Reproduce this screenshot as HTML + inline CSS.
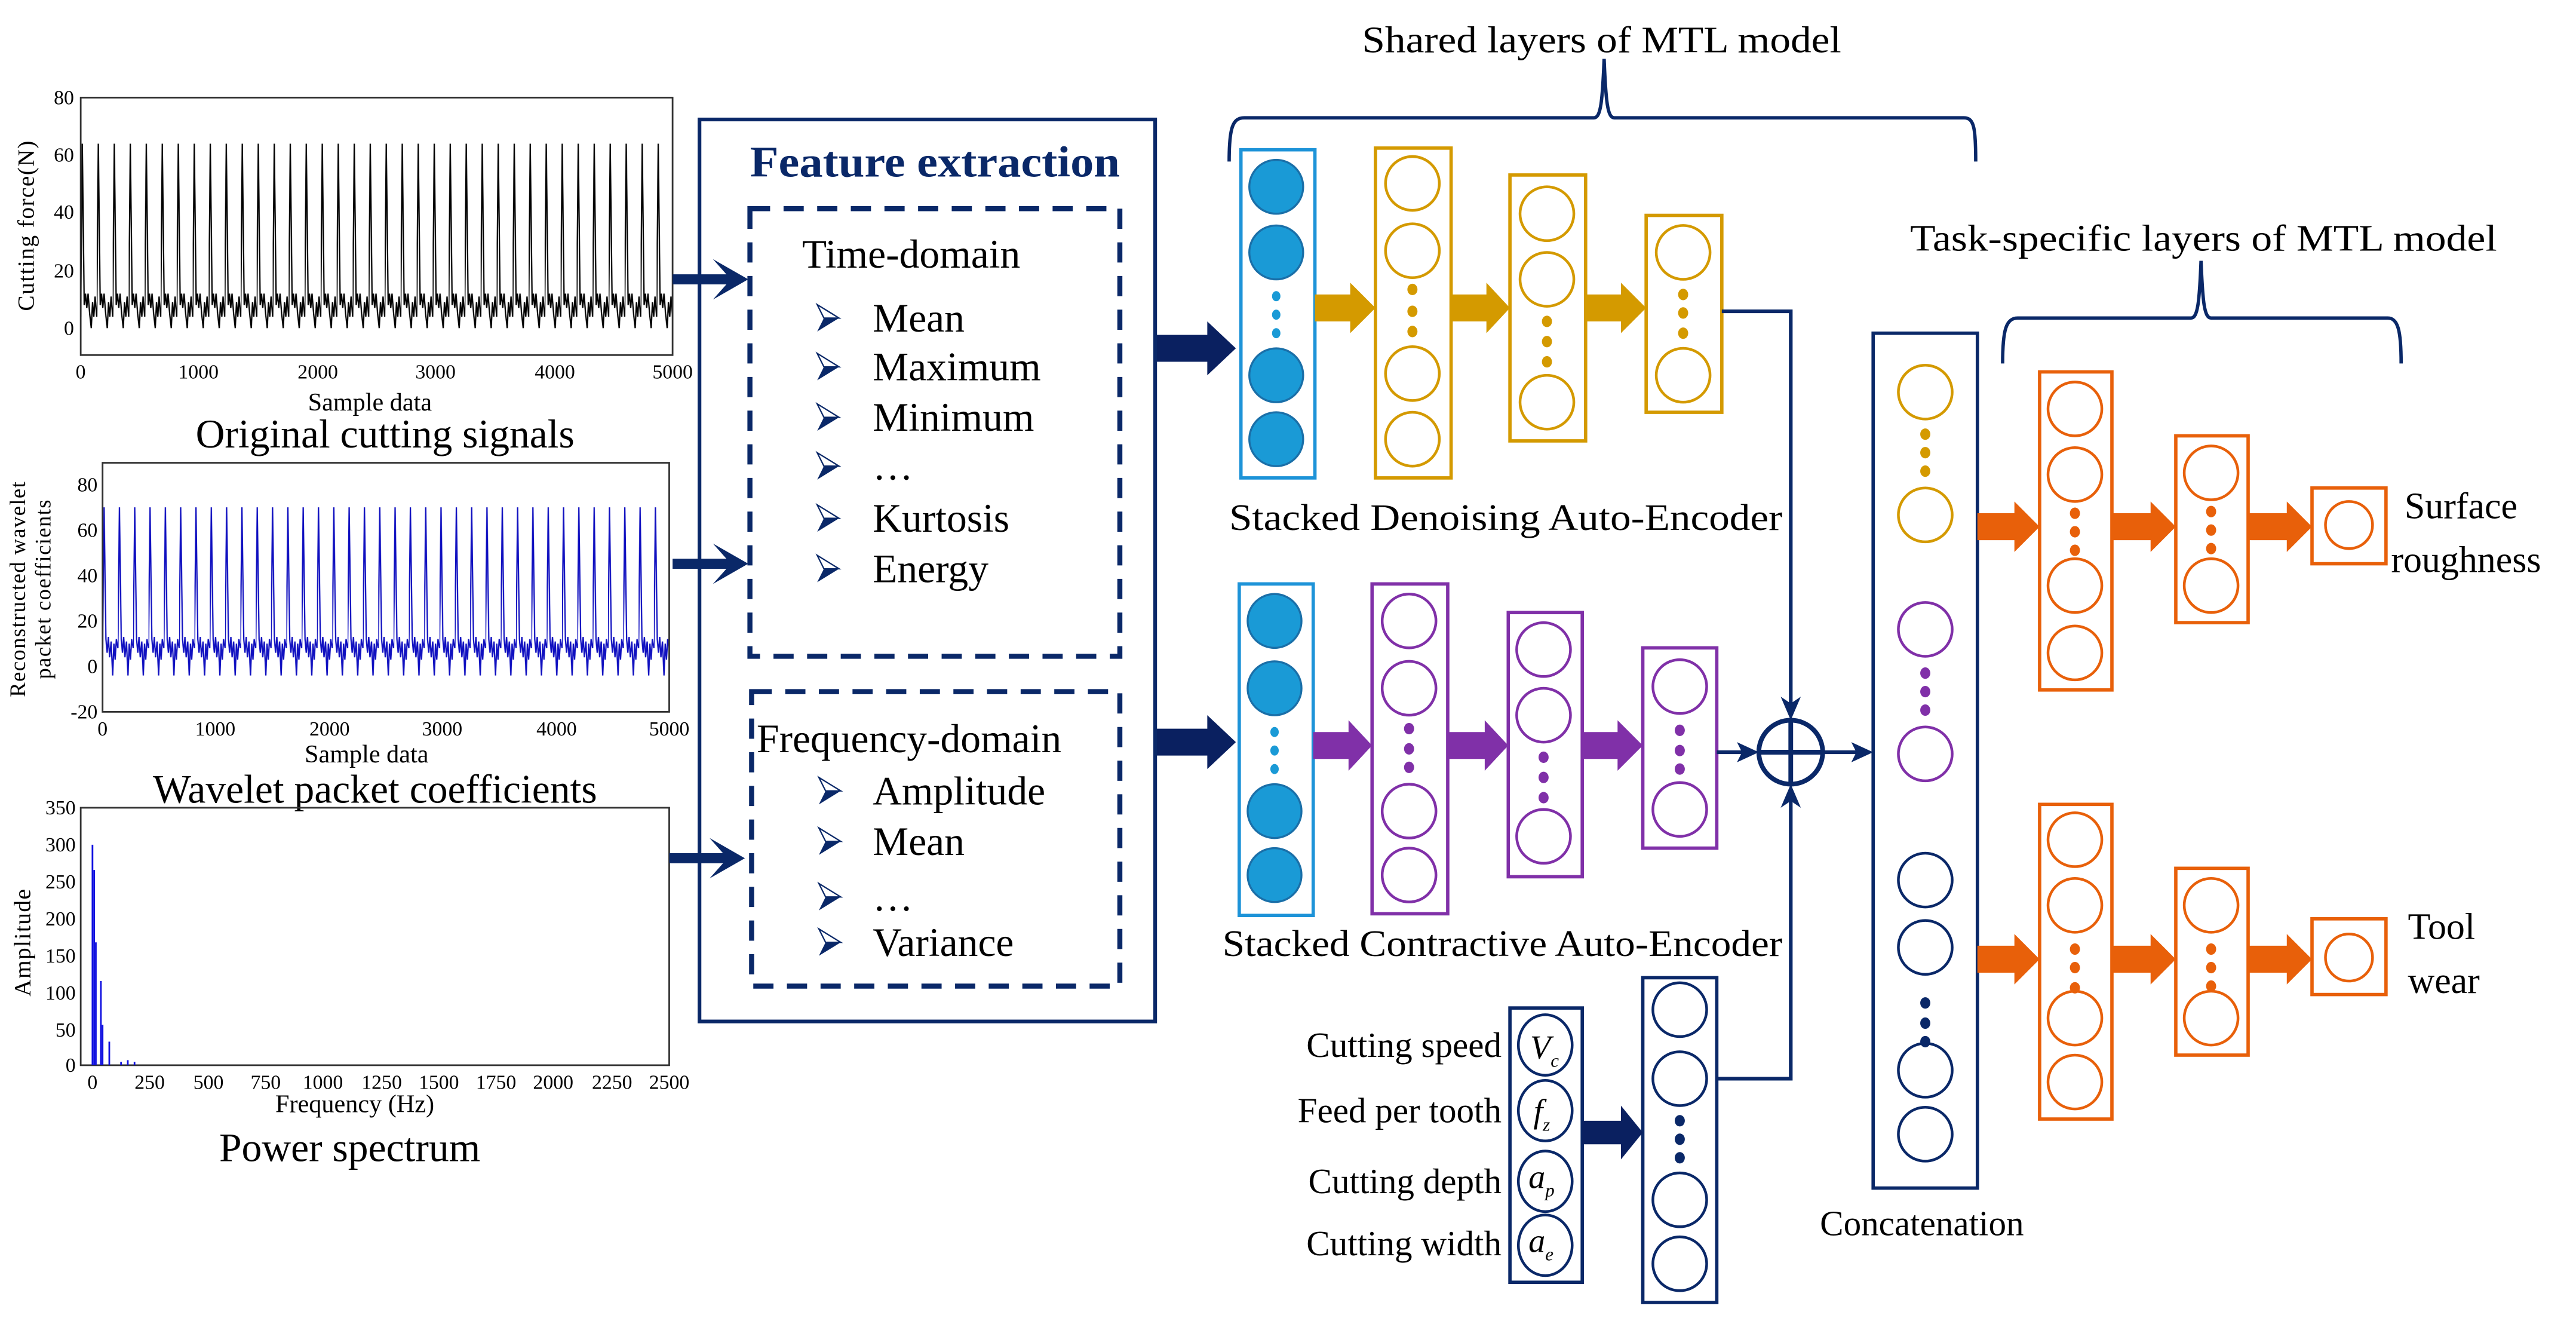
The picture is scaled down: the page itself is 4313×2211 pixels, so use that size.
<!DOCTYPE html>
<html><head><meta charset="utf-8"><style>
html,body{margin:0;padding:0;background:#fff;}
svg{display:block;}
text{font-family:"Liberation Serif",serif;}
</style></head><body>
<svg xmlns="http://www.w3.org/2000/svg" width="4313" height="2211" viewBox="0 0 1532 785" preserveAspectRatio="none">
<rect width="1532" height="785" fill="#fff"/>
<defs>
<g id="tri"><polygon points="0,-8 13,0 0,8 4,0" fill="#0a2868"/><polygon points="0,-8 13,0 4,0" fill="#fff" stroke="#0a2868" stroke-width="0.8"/></g>
<pattern id="pw1" patternUnits="userSpaceOnUse" x="48" y="0" width="9.514" height="785">
<polyline fill="none" stroke="#000" stroke-width="0.8" points="0,188.2 0.95,85.4 2.09,181.3 2.85,174.5 3.62,183 4.38,174.5 5.33,186.4 6.28,195 7.04,179.6 7.8,188.2 8.56,176.2 9.514,188.2"/>
</pattern>
<pattern id="pw2" patternUnits="userSpaceOnUse" x="61" y="0" width="9.108" height="785">
<polyline fill="none" stroke="#1010c0" stroke-width="0.8" points="0,385.2 0.91,301.5 2.0,379.8 2.73,387.9 3.46,378.5 4.19,390.6 5.1,381.2 6.01,401.4 6.74,382.5 7.47,392 8.2,379.8 9.108,385.2"/>
</pattern>
</defs>

<!-- ===== Plot 1 ===== -->
<rect x="48" y="80" width="352" height="120" fill="url(#pw1)"/>
<rect x="48" y="58" width="352" height="153" fill="none" stroke="#333" stroke-width="1"/>
<g font-size="12" text-anchor="end">
<text x="44" y="62">80</text><text x="44" y="96">60</text><text x="44" y="130">40</text><text x="44" y="165">20</text><text x="44" y="199">0</text>
</g>
<g font-size="12" text-anchor="middle">
<text x="48" y="225">0</text><text x="118" y="225">1000</text><text x="189" y="225">2000</text><text x="259" y="225">3000</text><text x="330" y="225">4000</text><text x="400" y="225">5000</text>
</g>
<text x="220" y="244" font-size="15" text-anchor="middle">Sample data</text>
<text x="229" y="266" font-size="24" text-anchor="middle">Original cutting signals</text>
<text transform="translate(20,134) rotate(-90)" font-size="14" text-anchor="middle" letter-spacing="0.5">Cutting force(N)</text>

<!-- ===== Plot 2 ===== -->
<rect x="61" y="296" width="337" height="110" fill="url(#pw2)"/>
<rect x="61" y="275" width="337" height="148" fill="none" stroke="#333" stroke-width="1"/>
<g font-size="12" text-anchor="end">
<text x="58" y="292">80</text><text x="58" y="319">60</text><text x="58" y="346">40</text><text x="58" y="373">20</text><text x="58" y="400">0</text><text x="58" y="427">-20</text>
</g>
<g font-size="12" text-anchor="middle">
<text x="61" y="437">0</text><text x="128" y="437">1000</text><text x="196" y="437">2000</text><text x="263" y="437">3000</text><text x="331" y="437">4000</text><text x="398" y="437">5000</text>
</g>
<text x="218" y="453" font-size="15" text-anchor="middle">Sample data</text>
<text x="223" y="477" font-size="24" text-anchor="middle">Wavelet packet coefficients</text>
<text transform="translate(15,350) rotate(-90)" font-size="13" text-anchor="middle" letter-spacing="0.5">Reconstructed wavelet</text>
<text transform="translate(30,350) rotate(-90)" font-size="13" text-anchor="middle" letter-spacing="0.5">packet coefficients</text>

<!-- ===== Plot 3 ===== -->
<rect x="48" y="480" width="350" height="153" fill="none" stroke="#333" stroke-width="1"/>
<g stroke="#1010e0" stroke-width="1">
<line x1="55" y1="633" x2="55" y2="502"/><line x1="56" y1="633" x2="56" y2="517"/>
<line x1="57" y1="633" x2="57" y2="560"/>
<line x1="60" y1="633" x2="60" y2="583"/><line x1="61" y1="633" x2="61" y2="609"/>
<line x1="65" y1="633" x2="65" y2="619"/><line x1="72" y1="633" x2="72" y2="631"/><line x1="76" y1="633" x2="76" y2="630"/><line x1="80" y1="633" x2="80" y2="631"/>
</g>
<g font-size="12" text-anchor="end">
<text x="45" y="484">350</text><text x="45" y="506">300</text><text x="45" y="528">250</text><text x="45" y="550">200</text><text x="45" y="572">150</text><text x="45" y="594">100</text><text x="45" y="616">50</text><text x="45" y="637">0</text>
</g>
<g font-size="12" text-anchor="middle">
<text x="55" y="647">0</text><text x="89" y="647">250</text><text x="124" y="647">500</text><text x="158" y="647">750</text><text x="192" y="647">1000</text><text x="227" y="647">1250</text><text x="261" y="647">1500</text><text x="295" y="647">1750</text><text x="329" y="647">2000</text><text x="364" y="647">2250</text><text x="398" y="647">2500</text>
</g>
<text x="211" y="661" font-size="15" text-anchor="middle">Frequency (Hz)</text>
<text x="208" y="690" font-size="24" text-anchor="middle">Power spectrum</text>
<text transform="translate(18,560) rotate(-90)" font-size="14" text-anchor="middle" letter-spacing="0.5">Amplitude</text>

<!-- small arrows plots -> feature box -->
<g fill="#0a2868">
<polygon points="400,163 432,163 424,154 445,166 424,178 432,169 400,169"/>
<polygon points="400,332 432,332 424,323 445,335 424,347 432,338 400,338"/>
<polygon points="398,507 430,507 422,498 443,510 422,522 430,513 398,513"/>
</g>

<!-- ===== Feature extraction box ===== -->
<rect x="416" y="71" width="271" height="536" fill="none" stroke="#0a2868" stroke-width="2.2"/>
<text x="556" y="105" font-size="26" font-weight="bold" fill="#0a2868" text-anchor="middle" textLength="220" lengthAdjust="spacingAndGlyphs">Feature extraction</text>
<rect x="446" y="124" width="220" height="266" fill="none" stroke="#0a2868" stroke-width="3" stroke-dasharray="12,8"/>
<rect x="447" y="411" width="219" height="175" fill="none" stroke="#0a2868" stroke-width="3" stroke-dasharray="12,8"/>
<g font-size="24">
<text x="477" y="159">Time-domain</text>
<text x="519" y="197">Mean</text>
<text x="519" y="226">Maximum</text>
<text x="519" y="256">Minimum</text>
<text x="519" y="285">…</text>
<text x="519" y="316">Kurtosis</text>
<text x="519" y="346">Energy</text>
<text x="450" y="447">Frequency-domain</text>
<text x="519" y="478">Amplitude</text>
<text x="519" y="508">Mean</text>
<text x="519" y="541">…</text>
<text x="519" y="568">Variance</text>
</g>
<use href="#tri" x="486" y="189"/><use href="#tri" x="486" y="218"/><use href="#tri" x="486" y="248"/><use href="#tri" x="486" y="277"/><use href="#tri" x="486" y="308"/><use href="#tri" x="486" y="338"/>
<use href="#tri" x="487" y="470"/><use href="#tri" x="487" y="500"/><use href="#tri" x="487" y="533"/><use href="#tri" x="487" y="560"/>

<!-- big navy arrows -->
<g fill="#0a2060">
<polygon points="688,199 718,199 718,191 735,207 718,223 718,215 688,215"/>
<polygon points="688,433 718,433 718,425 735,441 718,457 718,449 688,449"/>
</g>

<!-- ===== Network boxes ===== -->
<g fill="none" stroke-width="2">
<rect x="738" y="89" width="44" height="195" stroke="#1d93d8"/>
<rect x="737" y="347" width="44" height="197" stroke="#1d93d8"/>
<rect x="818" y="88" width="45" height="196" stroke="#d49a00"/>
<rect x="898" y="104" width="45" height="158" stroke="#d49a00"/>
<rect x="979" y="128" width="45" height="117" stroke="#d49a00"/>
<rect x="816" y="347" width="45" height="196" stroke="#8030a8"/>
<rect x="897" y="364" width="44" height="157" stroke="#8030a8"/>
<rect x="977" y="385" width="44" height="119" stroke="#8030a8"/>
<rect x="977" y="581" width="44" height="193" stroke="#0a2868"/>
<rect x="1114" y="198" width="62" height="508" stroke="#0a2868"/>
<rect x="1213" y="221" width="43" height="189" stroke="#e8600a"/>
<rect x="1294" y="259" width="43" height="111" stroke="#e8600a"/>
<rect x="1375" y="290" width="44" height="45" stroke="#e8600a"/>
<rect x="1213" y="478" width="43" height="187" stroke="#e8600a"/>
<rect x="1294" y="516" width="43" height="111" stroke="#e8600a"/>
<rect x="1375" y="546" width="44" height="45" stroke="#e8600a"/>
</g>

<!-- blue filled -->
<g fill="#1a9ad6" stroke="#1a6fa8" stroke-width="1.2">
<circle cx="759" cy="111" r="16"/><circle cx="759" cy="150" r="16"/><circle cx="759" cy="223" r="16"/><circle cx="759" cy="261" r="16"/>
<circle cx="758" cy="369" r="16"/><circle cx="758" cy="409" r="16"/><circle cx="758" cy="482" r="16"/><circle cx="758" cy="520" r="16"/>
</g>
<g fill="#1a9ad6">
<ellipse cx="759" cy="176" rx="2.5" ry="3"/><ellipse cx="759" cy="187" rx="2.5" ry="3"/><ellipse cx="759" cy="198" rx="2.5" ry="3"/>
<ellipse cx="758" cy="435" rx="2.5" ry="3"/><ellipse cx="758" cy="446" rx="2.5" ry="3"/><ellipse cx="758" cy="457" rx="2.5" ry="3"/>
</g>

<!-- yellow -->
<g fill="none" stroke="#d49a00" stroke-width="1.6">
<circle cx="840" cy="109" r="16"/><circle cx="840" cy="149" r="16"/><circle cx="840" cy="222" r="16"/><circle cx="840" cy="261" r="16"/>
<circle cx="920" cy="127" r="16"/><circle cx="920" cy="166" r="16"/><circle cx="920" cy="239" r="16"/>
<circle cx="1001" cy="150" r="16"/><circle cx="1001" cy="223" r="16"/>
<circle cx="1145" cy="233" r="16"/><circle cx="1145" cy="306" r="16"/>
</g>
<g fill="#d49a00">
<ellipse cx="840" cy="172" rx="3" ry="3.4"/><ellipse cx="840" cy="185" rx="3" ry="3.4"/><ellipse cx="840" cy="197" rx="3" ry="3.4"/>
<ellipse cx="920" cy="191" rx="3" ry="3.4"/><ellipse cx="920" cy="203" rx="3" ry="3.4"/><ellipse cx="920" cy="215" rx="3" ry="3.4"/>
<ellipse cx="1001" cy="175" rx="3" ry="3.4"/><ellipse cx="1001" cy="186" rx="3" ry="3.4"/><ellipse cx="1001" cy="198" rx="3" ry="3.4"/>
<ellipse cx="1145" cy="258" rx="3" ry="3.4"/><ellipse cx="1145" cy="269" rx="3" ry="3.4"/><ellipse cx="1145" cy="280" rx="3" ry="3.4"/>
<polygon points="782,175 803,175 803,168 818,183 803,198 803,191 782,191"/>
<polygon points="863,175 884,175 884,168 898,183 884,198 884,191 863,191"/>
<polygon points="943,175 964,175 964,168 979,183 964,198 964,191 943,191"/>
</g>

<!-- purple -->
<g fill="none" stroke="#8030a8" stroke-width="1.6">
<circle cx="838" cy="369" r="16"/><circle cx="838" cy="409" r="16"/><circle cx="838" cy="482" r="16"/><circle cx="838" cy="520" r="16"/>
<circle cx="918" cy="386" r="16"/><circle cx="918" cy="425" r="16"/><circle cx="918" cy="497" r="16"/>
<circle cx="999" cy="408" r="16"/><circle cx="999" cy="481" r="16"/>
<circle cx="1145" cy="374" r="16"/><circle cx="1145" cy="448" r="16"/>
</g>
<g fill="#8030a8">
<ellipse cx="838" cy="433" rx="3" ry="3.4"/><ellipse cx="838" cy="445" rx="3" ry="3.4"/><ellipse cx="838" cy="456" rx="3" ry="3.4"/>
<ellipse cx="918" cy="450" rx="3" ry="3.4"/><ellipse cx="918" cy="462" rx="3" ry="3.4"/><ellipse cx="918" cy="474" rx="3" ry="3.4"/>
<ellipse cx="999" cy="434" rx="3" ry="3.4"/><ellipse cx="999" cy="446" rx="3" ry="3.4"/><ellipse cx="999" cy="457" rx="3" ry="3.4"/>
<ellipse cx="1145" cy="400" rx="3" ry="3.4"/><ellipse cx="1145" cy="411" rx="3" ry="3.4"/><ellipse cx="1145" cy="422" rx="3" ry="3.4"/>
<polygon points="781,435 802,435 802,428 816,443 802,458 802,451 781,451"/>
<polygon points="861,435 883,435 883,428 897,443 883,458 883,451 861,451"/>
<polygon points="941,435 962,435 962,428 977,443 962,458 962,451 941,451"/>
</g>

<!-- navy circles -->
<g fill="none" stroke="#0a2868" stroke-width="1.6">
<circle cx="999" cy="600" r="16"/><circle cx="999" cy="641" r="16"/><circle cx="999" cy="713" r="16"/><circle cx="999" cy="751" r="16"/>
<circle cx="1145" cy="523" r="16"/><circle cx="1145" cy="563" r="16"/><circle cx="1145" cy="636" r="16"/><circle cx="1145" cy="674" r="16"/>
</g>
<g fill="#0a2868">
<ellipse cx="999" cy="666" rx="3" ry="3.4"/><ellipse cx="999" cy="677" rx="3" ry="3.4"/><ellipse cx="999" cy="688" rx="3" ry="3.4"/>
<ellipse cx="1145" cy="596" rx="3" ry="3.4"/><ellipse cx="1145" cy="608" rx="3" ry="3.4"/><ellipse cx="1145" cy="619" rx="3" ry="3.4"/>
</g>

<!-- orange -->
<g fill="none" stroke="#e8600a" stroke-width="1.6">
<circle cx="1234" cy="243" r="16"/><circle cx="1234" cy="282" r="16"/><circle cx="1234" cy="348" r="16"/><circle cx="1234" cy="388" r="16"/>
<circle cx="1315" cy="281" r="16"/><circle cx="1315" cy="348" r="16"/>
<circle cx="1397" cy="312" r="14"/>
<circle cx="1234" cy="499" r="16"/><circle cx="1234" cy="538" r="16"/><circle cx="1234" cy="605" r="16"/><circle cx="1234" cy="643" r="16"/>
<circle cx="1315" cy="538" r="16"/><circle cx="1315" cy="605" r="16"/>
<circle cx="1397" cy="569" r="14"/>
</g>
<g fill="#e8600a">
<ellipse cx="1234" cy="305" rx="3" ry="3.4"/><ellipse cx="1234" cy="316" rx="3" ry="3.4"/><ellipse cx="1234" cy="327" rx="3" ry="3.4"/>
<ellipse cx="1315" cy="304" rx="3" ry="3.4"/><ellipse cx="1315" cy="315" rx="3" ry="3.4"/><ellipse cx="1315" cy="326" rx="3" ry="3.4"/>
<ellipse cx="1234" cy="564" rx="3" ry="3.4"/><ellipse cx="1234" cy="575" rx="3" ry="3.4"/><ellipse cx="1234" cy="587" rx="3" ry="3.4"/>
<ellipse cx="1315" cy="564" rx="3" ry="3.4"/><ellipse cx="1315" cy="575" rx="3" ry="3.4"/><ellipse cx="1315" cy="586" rx="3" ry="3.4"/>
<polygon points="1176,305 1198,305 1198,298 1213,313 1198,328 1198,321 1176,321"/>
<polygon points="1256,305 1279,305 1279,298 1294,313 1279,328 1279,321 1256,321"/>
<polygon points="1337,305 1360,305 1360,298 1375,313 1360,328 1360,321 1337,321"/>
<polygon points="1176,562 1198,562 1198,555 1213,570 1198,585 1198,578 1176,578"/>
<polygon points="1256,562 1279,562 1279,555 1294,570 1279,585 1279,578 1256,578"/>
<polygon points="1337,562 1360,562 1360,555 1375,570 1360,585 1360,578 1337,578"/>
</g>

<!-- braces -->
<g fill="none" stroke="#0a2868" stroke-width="2">
<path d="M731,96 C731,76 733,70 740,70 L948,70 C952,70 953,60 954,35 C955,60 956,70 960,70 L1168,70 C1174,70 1175,76 1175,96"/>
<path d="M1191,216 C1191,196 1193,189 1200,189 L1303,189 C1307,189 1308,180 1309,155 C1310,180 1311,189 1315,189 L1420,189 C1426,189 1428,196 1428,216"/>
</g>
<text x="810" y="31" font-size="22" textLength="285" lengthAdjust="spacingAndGlyphs">Shared layers of MTL model</text>
<text x="1136" y="149" font-size="22" textLength="349" lengthAdjust="spacingAndGlyphs">Task-specific  layers of MTL model</text>

<text x="731" y="315" font-size="22" textLength="329" lengthAdjust="spacingAndGlyphs">Stacked Denoising  Auto-Encoder</text>
<text x="727" y="568" font-size="22" textLength="333" lengthAdjust="spacingAndGlyphs">Stacked Contractive  Auto-Encoder</text>
<g font-size="21" text-anchor="end">
<text x="893" y="628">Cutting speed</text>
<text x="893" y="667">Feed per tooth</text>
<text x="893" y="709">Cutting depth</text>
<text x="893" y="746">Cutting width</text>
</g>
<text x="1143" y="734" font-size="21" text-anchor="middle">Concatenation</text>
<text x="1430" y="308" font-size="22">Surface</text>
<text x="1422" y="340" font-size="22">roughness</text>
<text x="1432" y="558" font-size="22">Tool</text>
<text x="1432" y="590" font-size="22">wear</text>

<!-- connectors to plus -->
<g fill="none" stroke="#0a2868" stroke-width="2.2">
<path d="M1024,185 L1065,185 L1065,424"/>
<path d="M1021,641 L1065,641 L1065,469"/>
<line x1="1021" y1="447" x2="1042" y2="447"/>
<line x1="1084" y1="447" x2="1108" y2="447"/>
<circle cx="1065" cy="447" r="19" stroke-width="2.8"/>
<line x1="1046" y1="447" x2="1084" y2="447" stroke-width="2.8"/>
<line x1="1065" y1="428" x2="1065" y2="466" stroke-width="2.8"/>
</g>
<g fill="#0a2868">
<polygon points="1059,414 1065,428 1071,414 1065,418"/>
<polygon points="1059,480 1065,466 1071,480 1065,476"/>
<polygon points="1033,441 1046,447 1033,453 1036,447"/>
<polygon points="1101,441 1114,447 1101,453 1104,447"/>
</g>

<!-- input params -->
<rect x="898" y="599" width="43" height="163" fill="none" stroke="#0a2868" stroke-width="2"/>
<g fill="none" stroke="#0a2868" stroke-width="1.6">
<ellipse cx="919" cy="621" rx="16" ry="18"/><ellipse cx="919" cy="660" rx="16" ry="18"/><ellipse cx="919" cy="702" rx="16" ry="18"/><ellipse cx="919" cy="740" rx="16" ry="18"/>
</g>
<g font-size="20" font-style="italic">
<text x="910" y="629">V<tspan font-size="11" dy="5">c</tspan></text>
<text x="912" y="667">f<tspan font-size="11" dy="5">z</tspan></text>
<text x="909" y="706">a<tspan font-size="11" dy="5">p</tspan></text>
<text x="909" y="744">a<tspan font-size="11" dy="5">e</tspan></text>
</g>
<polygon points="941,666 964,666 964,657 977,673 964,689 964,680 941,680" fill="#0a2060"/>
</svg>
</body></html>
